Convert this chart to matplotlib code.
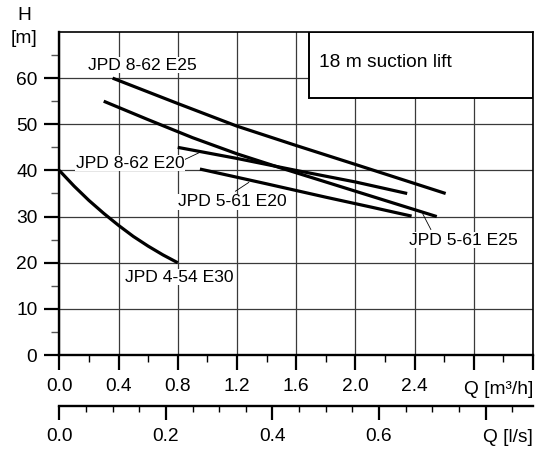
import numpy as np
import matplotlib
matplotlib.use("Agg")
import matplotlib.pyplot as plt
from matplotlib.patches import Rectangle

plt.rcParams['font.family'] = ['Liberation Sans', 'DejaVu Sans']

# pump curves, Q in m3/h, H in m
q_8_62_e25 = [0.36, 0.8, 1.2, 1.6, 2.0, 2.3, 2.61]
h_8_62_e25 = [60.0, 54.5, 49.6, 45.4, 41.3, 38.2, 35.0]

q_5_61_e25 = [0.3, 0.6, 0.9, 1.2, 1.5, 1.8, 2.1, 2.4, 2.55]
h_5_61_e25 = [55.0, 51.0, 47.1, 43.6, 40.5, 37.5, 34.5, 31.5, 30.0]

q_8_62_e20 = [0.8, 1.2, 1.6, 2.0, 2.35]
h_8_62_e20 = [45.0, 42.6, 40.0, 37.5, 35.0]

q_5_61_e20 = [0.95, 1.4, 1.8, 2.1, 2.38]
h_5_61_e20 = [40.3, 37.1, 34.2, 32.1, 30.1]

q_4_54_e30 = [0.0, 0.1, 0.2, 0.3, 0.4, 0.5, 0.6, 0.7, 0.8]
h_4_54_e30 = [40.0, 36.6, 33.5, 30.7, 28.1, 25.7, 23.6, 21.7, 20.0]

curves = [
    (q_8_62_e25, h_8_62_e25),
    (q_5_61_e25, h_5_61_e25),
    (q_8_62_e20, h_8_62_e20),
    (q_5_61_e20, h_5_61_e20),
    (q_4_54_e30, h_4_54_e30),
]

# label text, text position, leader line (or None)
labels = [
    ("JPD 8-62 E25", (0.56, 62.8), None),
    ("JPD 8-62 E20", (0.48, 41.6), [(0.85, 42.4), (0.955, 44.0)]),
    ("JPD 5-61 E20", (1.17, 33.2), [(1.19, 35.5), (1.28, 37.4)]),
    ("JPD 5-61 E25", (2.73, 24.9), [(2.51, 27.2), (2.455, 30.6)]),
    ("JPD 4-54 E30", (0.81, 16.9), None),
]

x_ticks = [0.0, 0.4, 0.8, 1.2, 1.6, 2.0, 2.4, 2.8, 3.2]
x_ticklabels = ["0.0", "0.4", "0.8", "1.2", "1.6", "2.0", "2.4", "", ""]
y_ticks = [0, 10, 20, 30, 40, 50, 60]
ls_ticks = [0.0, 0.2, 0.4, 0.6, 0.8]
ls_ticklabels = ["0.0", "0.2", "0.4", "0.6", ""]

fig = plt.figure(figsize=(5.46, 4.53), dpi=100)
ax = fig.add_axes([0.1086, 0.2163, 0.8676, 0.7131])

ax.set_xlim(0, 3.2)
ax.set_ylim(0, 70)
ax.set_xticks(x_ticks)
ax.set_xticklabels(x_ticklabels)
ax.set_xticks(np.arange(0.2, 3.2, 0.4), minor=True)
ax.set_yticks(y_ticks)
ax.set_yticks(np.arange(5, 70, 10), minor=True)
ax.tick_params(axis='both', which='major', labelsize=13.8, width=1.6, direction='out')
ax.tick_params(axis='x', which='major', length=10.8, pad=6)
ax.tick_params(axis='x', which='minor', length=5, width=1.0)
ax.tick_params(axis='y', which='major', length=10.8, pad=5)
ax.tick_params(axis='y', which='minor', length=5.5, width=1.0, color='#555555')

for s in ['left', 'bottom']:
    ax.spines[s].set_linewidth(1.7)
for s in ['top', 'right']:
    ax.spines[s].set_linewidth(1.2)

ax.grid(True, which='major', color='#3a3a3a', linewidth=0.9)
ax.set_axisbelow(True)

for q, h in curves:
    ax.plot(q, h, color='black', linewidth=2.3, solid_capstyle='butt', zorder=3)

for text, pos, leader in labels:
    if leader is not None:
        ax.plot([leader[0][0], leader[1][0]], [leader[0][1], leader[1][1]],
                color='black', linewidth=0.6, zorder=2)
    ax.text(pos[0], pos[1], text, fontsize=12.6, ha='center', va='center', zorder=4,
            bbox=dict(facecolor='white', edgecolor='none', pad=0.5))

# suction lift box
ax.add_patch(Rectangle((0.5278, 0.7966), 0.4722, 0.2034, transform=ax.transAxes,
                       facecolor='white', edgecolor='black', linewidth=1.4, zorder=5))
ax.text(0.548, 0.905, "18 m suction lift", transform=ax.transAxes, fontsize=13.8,
        ha='left', va='center', zorder=6)

# axis captions
fig.text(24 / 546, 1 - 15.5 / 453, "H", fontsize=13.8, ha='center', va='center')
fig.text(23.5 / 546, 1 - 38.5 / 453, "[m]", fontsize=13.8, ha='center', va='center')
fig.text(533 / 546, 1 - 389 / 453, "Q [m³/h]", fontsize=13.8, ha='right', va='center')

# second flow axis in l/s
ax2 = fig.add_axes([0.1086, 1 - 405.7 / 453, 0.8676, 0.0001])
ax2.set_xlim(0, 3.2 / 3.6)
ax2.set_ylim(0, 1)
for s in ['left', 'right', 'top']:
    ax2.spines[s].set_visible(False)
ax2.spines['bottom'].set_linewidth(1.7)
ax2.set_yticks([])
ax2.patch.set_visible(False)
ax2.set_xticks(ls_ticks)
ax2.set_xticklabels(ls_ticklabels)
ax2.set_xticks(np.arange(0.05, 0.89, 0.05), minor=True)
ax2.tick_params(axis='x', which='major', length=10.3, width=1.6, labelsize=13.8, pad=6)
ax2.tick_params(axis='x', which='minor', length=4.3, width=1.0)
fig.text(533 / 546, 1 - 437 / 453, "Q [l/s]", fontsize=13.8, ha='right', va='center')

fig.savefig("out.png", dpi=100)
